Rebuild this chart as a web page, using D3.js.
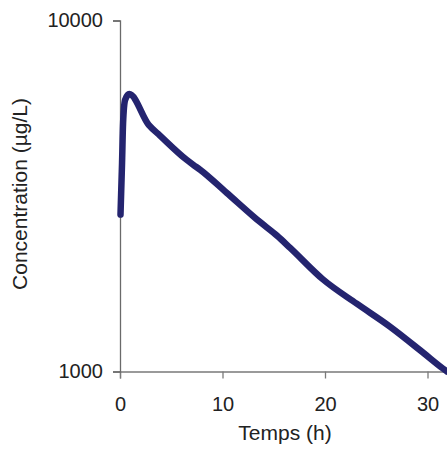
<!DOCTYPE html>
<html>
  <head>
    <meta charset="utf-8">
    <style>
      body { margin: 0; background: #fff; }
      text { font-family: "Liberation Sans", Arial, sans-serif; fill: #222; }
    </style>
    <script src="https://d3js.org/d3.v7.min.js"></script>
    <title>concentration</title>
  </head>
  <body>
    <div id="chart"></div>
    <script>
    // temps (h) et concentration (µg/L)
    var temps = [0.05, 0.2, 0.3, 0.5, 0.9, 2.8, 3.9, 6.5, 7.15, 7.8, 10.4, 13.3, 13.7, 15.3, 16.6, 19.8, 23.1, 26.3, 29.6, 31.5, 31.9]
    var conc = [2800, 3930, 5100, 5940, 6170, 5040, 4700, 4010, 3880, 3760, 3230, 2720, 2660, 2440, 2250, 1830, 1560, 1345, 1130, 1020, 1000]
    var xTicks = [0, 10, 20, 30]
    var yTicks = [1000, 10000]

    var width = 447, height = 452
    var margin = {top: 20.5, right: 0, bottom: 80.5, left: 120}

    var svg = d3.select("#chart").append("svg")
      .attr("width", width)
      .attr("height", height)

    var x = d3.scaleLinear().domain([0, 32]).range([margin.left, margin.left + 328])
    var y = d3.scaleLog().domain([1000, 10000]).range([height - margin.bottom, margin.top])

    // axe x
    var gx = svg.append("g")
      .attr("transform", "translate(0," + y(1000) + ")")
      .call(d3.axisBottom(x).tickValues(xTicks).tickSize(7).tickPadding(18).tickFormat(d3.format("d")))
    gx.select(".domain").attr("stroke", "#7a7a7a").attr("stroke-width", 1.3)
    gx.selectAll(".tick line").attr("stroke", "#7a7a7a").attr("stroke-width", 1.3)
    gx.selectAll(".tick text").style("font-size", "20px").attr("fill", "#222")

    // axe y
    var gy = svg.append("g")
      .attr("transform", "translate(" + x(0) + ",0)")
      .call(d3.axisLeft(y).tickValues(yTicks).tickSize(7).tickPadding(10).tickFormat(d3.format("d")))
    gy.select(".domain").attr("stroke", "#6a6a6a").attr("stroke-width", 1.3)
    gy.selectAll(".tick line").attr("stroke", "#6a6a6a").attr("stroke-width", 1.3)
    gy.selectAll(".tick text").style("font-size", "20px").attr("fill", "#222")

    // courbe
    var data = temps.map(function(t, i) { return [t, conc[i]] })
    svg.append("path")
      .datum(data)
      .attr("d", d3.line().curve(d3.curveMonotoneX).x(function(d) { return x(d[0]) }).y(function(d) { return y(d[1]) }))
      .attr("fill", "none")
      .attr("stroke", "#24246f")
      .attr("stroke-width", 6.5)
      .attr("stroke-linejoin", "round")
      .attr("stroke-linecap", "round")

    // titres
    svg.append("text")
      .attr("x", 285)
      .attr("y", 440)
      .attr("text-anchor", "middle")
      .style("font-size", "21px")
      .text("Temps (h)")

    svg.append("text")
      .attr("transform", "translate(27,194) rotate(-90)")
      .attr("text-anchor", "middle")
      .style("font-size", "21px")
      .text("Concentration (µg/L)")
    </script>
  </body>
</html>
